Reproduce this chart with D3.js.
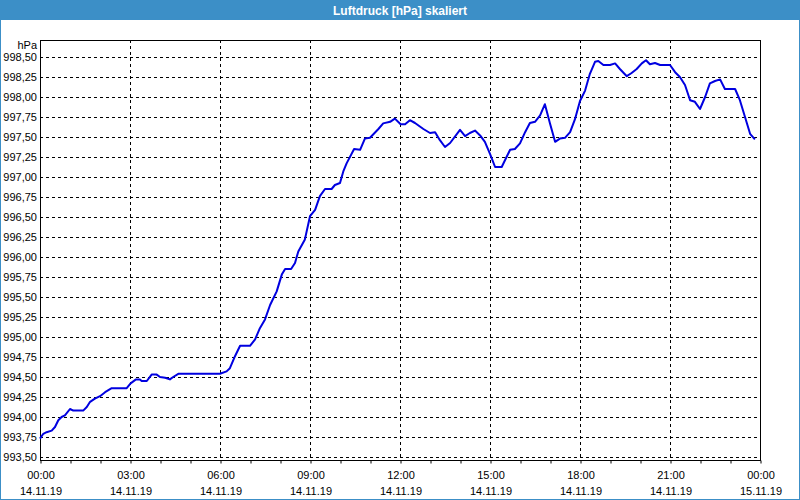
<!DOCTYPE html>
<html>
<head>
<meta charset="utf-8">
<script src="https://cdn.jsdelivr.net/npm/d3@7"></script>
<style>
  body { margin:0; background:#fff; }
  svg { display:block; font-family:"Liberation Sans", Arial, sans-serif; }
</style>
</head>
<body>
<div class="canvas"></div>
<script>
// readings of 14.11.19, hour of day and pressure in hPa
const hours = [0,0.11,0.22,0.39,0.5,0.61,0.72,0.83,1.0,1.11,1.44,1.56,1.67,1.83,2.0,2.17,2.39,2.89,3.02,3.2,
  3.33,3.39,3.56,3.72,3.89,4.0,4.17,4.33,4.44,4.61,4.78,6.0,6.22,6.33,6.5,6.67,7.0,7.17,7.33,7.5,
  7.67,7.89,8.06,8.17,8.37,8.5,8.61,8.83,9.0,9.17,9.33,9.5,9.72,9.83,10.0,10.11,10.22,10.47,10.67,10.83,
  11.0,11.28,11.44,11.67,11.83,12.02,12.17,12.33,12.5,12.78,13.0,13.17,13.33,13.5,13.67,14.0,14.17,14.33,14.5,14.67,
  14.83,15.0,15.17,15.39,15.67,15.83,16.0,16.17,16.33,16.5,16.67,16.83,17.0,17.17,17.33,17.5,17.67,17.83,18.0,18.17,
  18.33,18.5,18.61,18.78,19.0,19.17,19.33,19.56,19.72,19.89,20.06,20.2,20.33,20.5,20.67,20.83,21.0,21.17,21.33,21.5,
  21.67,21.83,22.0,22.17,22.33,22.5,22.67,22.83,23.17,23.33,23.5,23.67,23.83]
const pressure = [993.73,993.79,993.81,993.83,993.875,993.96,994.0,994.02,994.10,994.08,994.08,994.125,994.19,994.23,994.26,994.31,994.36,994.36,994.42,994.47,
  994.47,994.45,994.45,994.53,994.53,994.50,994.49,994.47,994.50,994.54,994.54,994.54,994.57,994.61,994.76,994.89,994.89,994.97,995.11,995.22,
  995.40,995.57,995.78,995.85,995.85,995.925,996.07,996.22,996.51,996.59,996.76,996.85,996.85,996.90,996.925,997.07,997.17,997.35,997.34,997.48,
  997.49,997.60,997.67,997.69,997.73,997.66,997.66,997.71,997.675,997.60,997.55,997.56,997.46,997.375,997.425,997.59,997.51,997.55,997.58,997.52,
  997.44,997.29,997.125,997.125,997.34,997.35,997.42,997.56,997.675,997.69,997.77,997.91,997.67,997.44,997.48,997.49,997.56,997.72,997.95,998.08,
  998.29,998.44,998.45,998.40,998.40,998.42,998.35,998.26,998.30,998.35,998.42,998.46,998.41,998.425,998.40,998.40,998.40,998.31,998.25,998.15,
  997.96,997.94,997.85,998.0,998.17,998.20,998.22,998.10,998.10,997.96,997.75,997.54,997.47]

const yTicks = d3.range(993.5, 998.51, 0.25)
const title = 'Luftdruck [hPa] skaliert'

const width = 800, height = 500
const margin = {top:40, right:40, bottom:40, left:40}
const start = new Date(2019, 10, 14, 0, 0)
const end = new Date(2019, 10, 15, 0, 0)

const data = hours.map((h, i) => ({date: new Date(start.getTime() + h * 3600000), value: pressure[i]}))

const svg = d3.select('.canvas').append('svg').attr('width', width).attr('height', height)

// frame + title bar
svg.append('rect').attr('x',0.5).attr('y',0.5).attr('width',width-1).attr('height',height-1)
  .attr('fill','#fff').attr('stroke','#3c8fc7')
svg.append('rect').attr('x',0).attr('y',0).attr('width',width).attr('height',20).attr('fill','#3c8fc7')
svg.append('text').attr('x',width/2).attr('y',14.5).attr('text-anchor','middle')
  .attr('fill','#fff').attr('font-weight','bold').attr('font-size','12px').text(title)

//scales
const x = d3.scaleTime().domain([start, end]).range([margin.left, width - margin.right])
const y = d3.scaleLinear().domain([993.4625, 998.7125]).range([height - margin.bottom, margin.top])

const fmt = d3.formatLocale({decimal:',', thousands:'.', grouping:[3], currency:['','']}).format('.2f')

// horizontal dotted grid
svg.append('g').selectAll('line').data(yTicks).join('line')
  .attr('x1', margin.left).attr('x2', width - margin.right)
  .attr('y1', d => Math.round(y(d)) + 0.5).attr('y2', d => Math.round(y(d)) + 0.5)
  .attr('stroke','#000').attr('stroke-dasharray','3,3')

// vertical dotted grid every 3 hours
const gridTimes = d3.timeHour.every(3).range(start, end).slice(1)
svg.append('g').selectAll('line').data(gridTimes).join('line')
  .attr('x1', d => Math.round(x(d)) + 0.5).attr('x2', d => Math.round(x(d)) + 0.5)
  .attr('y1', margin.top).attr('y2', height - margin.bottom)
  .attr('stroke','#000').attr('stroke-dasharray','3,3')

// y labels
svg.append('g').selectAll('text').data(yTicks).join('text')
  .attr('x', 37).attr('y', d => y(d)).attr('dy','0.35em').attr('text-anchor','end')
  .attr('font-size','11px').attr('fill','#000').text(d => fmt(d))
svg.append('text').attr('x',37).attr('y',49).attr('text-anchor','end')
  .attr('font-size','11px').attr('fill','#000').text('hPa')

// x axis with hourly ticks
const xAxis = d3.axisBottom(x).ticks(d3.timeHour.every(1)).tickSize(3).tickFormat('').tickSizeOuter(0)
const xAxisGroup = svg.append('g').attr('transform', `translate(0.5,${height - margin.bottom + 0.5})`).call(xAxis)
xAxisGroup.select('.domain').remove()
xAxisGroup.selectAll('line').attr('stroke','#000')

const labelTimes = d3.timeHour.every(3).range(start, d3.timeMinute.offset(end, 1))
const lab = svg.append('g').selectAll('g').data(labelTimes).join('g')
  .attr('transform', d => `translate(${x(d) + 1},0)`)
lab.append('text').attr('y', 479).attr('text-anchor','middle').attr('font-size','11px')
  .text(d => d3.timeFormat('%H:%M')(d))
lab.append('text').attr('y', 495).attr('text-anchor','middle').attr('font-size','11px')
  .text(d => d3.timeFormat('%d.%m.%y')(d))

// plot border
svg.append('rect').attr('x', margin.left + 0.5).attr('y', margin.top + 0.5)
  .attr('width', width - margin.left - margin.right).attr('height', height - margin.top - margin.bottom)
  .attr('fill','none').attr('stroke','#000')

// pressure line
const line = d3.line().x(d => x(d.date)).y(d => y(d.value))
svg.append('path').datum(data).attr('fill','none').attr('stroke','#0000e0')
  .attr('stroke-width',2).attr('stroke-linejoin','round').attr('d', line)
</script>
</body>
</html>
